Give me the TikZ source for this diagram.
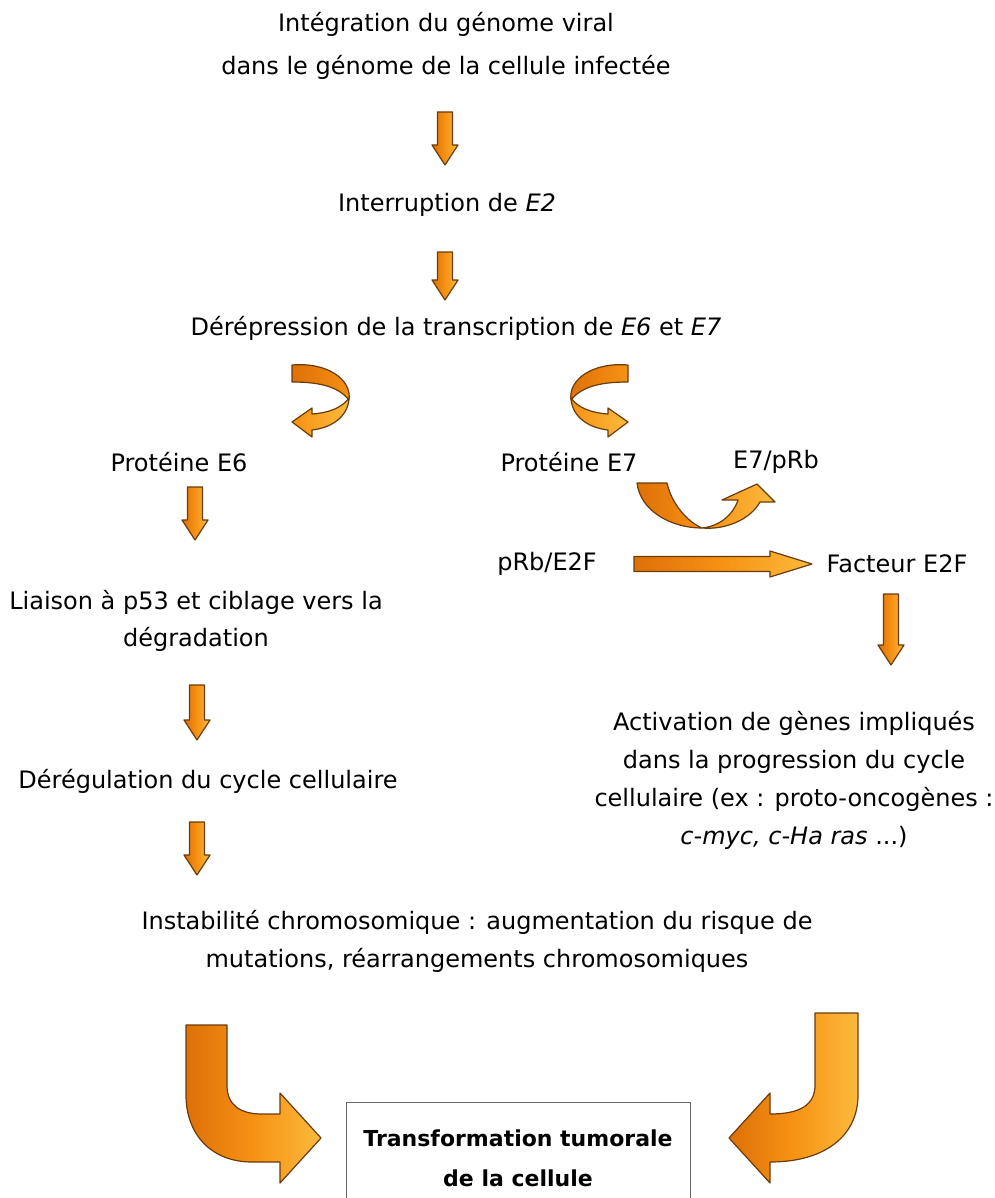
\documentclass[tikz,border=0pt]{standalone}
\usepackage{fontspec}
\setmainfont{DejaVu Sans}
\usetikzlibrary{calc}
\definecolor{orD}{RGB}{222,112,8}
\definecolor{orM}{RGB}{246,146,20}
\definecolor{orL}{RGB}{252,186,60}
\definecolor{orEdge}{RGB}{105,60,10}
\tikzset{
  lbl/.style={font=\fontsize{24}{38}\selectfont, align=center, inner sep=0pt, text=black},
  blk/.style={draw=orEdge, line width=1.2pt, left color=orD, right color=orL, middle color=orM, line join=round},
  blkdark/.style={draw=orEdge, line width=1.2pt, left color=orD, right color=orM, line join=round},
  blklight/.style={draw=orEdge, line width=1.2pt, left color=orM, right color=orL, line join=round},
  resbox/.style={draw=black!60, line width=1pt, fill=white, minimum width=344pt, minimum height=130pt, anchor=north, inner sep=0pt},
}
\newcommand{\blkdown}[2]{\path[blk] let \p1=(#1),\p2=(#2) in
  (\x1-7.5pt,\y1) -- (\x1+7.5pt,\y1) -- (\x1+7.5pt,\y2+20pt) -- (\x1+13pt,\y2+20pt)
  -- (\x1,\y2) -- (\x1-13pt,\y2+20pt) -- (\x1-7.5pt,\y2+20pt) -- cycle;}
\newcommand{\blkright}[2]{\path[blk] let \p1=(#1),\p2=(#2) in
  (\x1,\y1+7.5pt) -- (\x2-42pt,\y1+7.5pt) -- (\x2-42pt,\y1+13pt) -- (\x2,\y1)
  -- (\x2-42pt,\y1-13pt) -- (\x2-42pt,\y1-7.5pt) -- (\x1,\y1-7.5pt) -- cycle;}
\newcommand{\curly}{%
  \path[blkdark] (292,365) .. controls (328,362) and (352,380) .. (349,400)
     .. controls (338,386) and (318,382) .. (292,382) -- cycle;
  \path[blklight] (349,398) .. controls (348,418) and (330,428) .. (312,430)
     -- (312,437) -- (292,422) -- (312,408) -- (312,414)
     .. controls (328,413) and (342,408) .. (349,398) -- cycle;}
\begin{document}
\begin{tikzpicture}[x=1pt,y=-1pt]
\useasboundingbox (0,0) rectangle (994,1198);
\fill[white] (0,0) rectangle (994,1198);

% texts
\node[lbl, font=\fontsize{24}{43}\selectfont] (t1) at (446,46) {Intégration du génome viral\\dans le génome de la cellule infectée};
\node[lbl] (t2) at (447,205) {Interruption de \textit{E2}};
\node[lbl] (t3) at (456,328) {Dérépression de la transcription de \textit{E6} et \textit{E7}};
\node[lbl] (e6) at (179,462) {Protéine E6};
\node[lbl] (e7) at (569,462) {Protéine E7};
\node[lbl] (e7prb) at (776,462) {E7/pRb};
\node[lbl] (prbe2f) at (547,564) {pRb/E2F};
\node[lbl] (e2f) at (897,564) {Facteur E2F};
\node[lbl, font=\fontsize{24}{37}\selectfont] (p53) at (196,621) {Liaison à p53 et ciblage vers la\\dégradation};
\node[lbl] (dereg) at (208,781) {Dérégulation du cycle cellulaire};
\node[lbl] (act) at (794,780) {Activation de gènes impliqués\\dans la progression du cycle\\cellulaire (ex : proto-oncogènes :\\\textit{c-myc, c-Ha ras} ...)};
\node[lbl] (inst) at (477,941) {Instabilité chromosomique : augmentation du risque de\\mutations, réarrangements chromosomiques};
\node[resbox] (box) at (518,1102) {};
\node[lbl, font=\bfseries\fontsize{22}{40}\selectfont] (boxt) at (518,1158) {Transformation tumorale\\de la cellule};

% arrow end points
\coordinate (a1s) at (445,112); \coordinate (a1e) at (445,165);
\coordinate (a2s) at (445,252); \coordinate (a2e) at (445,300);
\coordinate (a3s) at (195,487); \coordinate (a3e) at (195,540);
\coordinate (a4s) at (197,685); \coordinate (a4e) at (197,740);
\coordinate (a5s) at (197,822); \coordinate (a5e) at (197,875);
\coordinate (a6s) at (891,594); \coordinate (a6e) at (891,665);
\coordinate (hs) at (634,564); \coordinate (he) at (812,564);

\blkdown{a1s}{a1e}
\blkdown{a2s}{a2e}
\blkdown{a3s}{a3e}
\blkdown{a4s}{a4e}
\blkdown{a5s}{a5e}
\blkdown{a6s}{a6e}
\blkright{hs}{he}

% curly arrows
\curly
\begin{scope}[xshift=920pt, xscale=-1]
\curly
\end{scope}

% U arrow E7 -> E7/pRb
\path[blkdark] (637,483) -- (667,483) .. controls (672,505) and (688,522) .. (702,528)
   .. controls (670,528) and (640,510) .. (637,483) -- cycle;
\path[blklight] (702,528) .. controls (720,526) and (733,515) .. (738,500) -- (722,500)
   -- (757,484) -- (775,502) -- (760,502) .. controls (750,520) and (725,530) .. (702,528) -- cycle;

% big arrows
\path[blk] (186,1025) -- (227,1025) -- (227,1085) .. controls (227,1105) and (240,1114) .. (262,1114)
   -- (280,1114) -- (280,1093) -- (321,1138) -- (280,1183) -- (280,1162) -- (252,1162)
   .. controls (212,1162) and (186,1135) .. (186,1095) -- cycle;
\path[blk] (858,1013) -- (815,1013) -- (815,1085) .. controls (815,1105) and (800,1114) .. (770,1114)
   -- (770,1093) -- (729,1138) -- (770,1183) -- (770,1162) .. controls (826,1162) and (858,1135) .. (858,1095) -- cycle;
\end{tikzpicture}
\end{document}
